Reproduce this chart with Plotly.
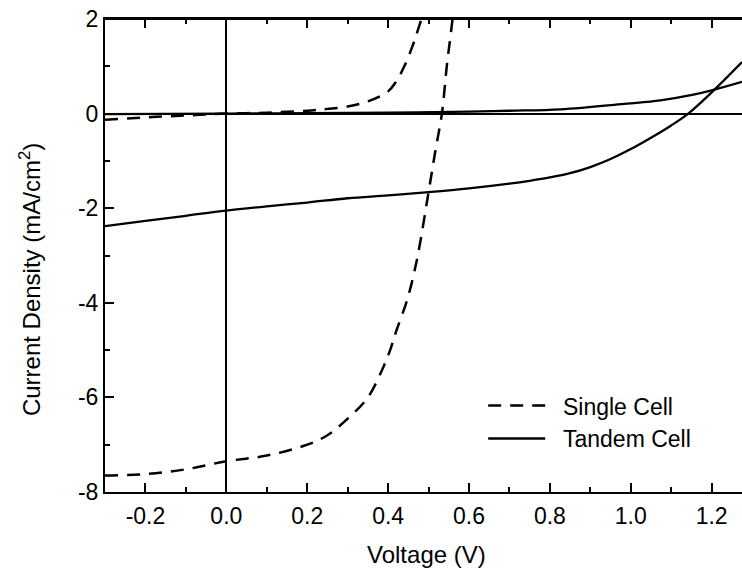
import plotly.graph_objects as go

# ---- data ----
single_light_v = [-0.3, -0.2, -0.1, 0.0, 0.1, 0.2, 0.25, 0.3, 0.35, 0.385, 0.405, 0.42, 0.447, 0.471, 0.5, 0.517, 0.533, 0.545, 0.556, 0.562]
single_light_j = [-7.65, -7.62, -7.52, -7.35, -7.23, -7.0, -6.8, -6.45, -6.0, -5.42, -5.0, -4.6, -3.94, -3.1, -1.66, -0.78, 0.0, 1.0, 1.76, 2.2]

single_dark_v = [-0.3, -0.2, -0.1, 0.0, 0.1, 0.2, 0.25, 0.3, 0.35, 0.4, 0.42, 0.44, 0.46, 0.475, 0.49]
single_dark_j = [-0.13, -0.08, -0.04, 0.0, 0.02, 0.06, 0.10, 0.15, 0.26, 0.47, 0.68, 1.0, 1.42, 1.8, 2.2]

tandem_light_v = [-0.3, -0.2, -0.1, 0.0, 0.1, 0.2, 0.3, 0.4, 0.5, 0.6, 0.7, 0.75, 0.8, 0.85, 0.9, 0.95, 1.0, 1.05, 1.1, 1.142, 1.2, 1.275]
tandem_light_j = [-2.38, -2.27, -2.16, -2.05, -1.96, -1.88, -1.79, -1.73, -1.66, -1.58, -1.48, -1.42, -1.35, -1.26, -1.13, -0.96, -0.75, -0.51, -0.25, 0.0, 0.45, 1.09]

tandem_dark_v = [-0.3, 0.0, 0.2, 0.4, 0.6, 0.7, 0.826, 0.99, 1.073, 1.155, 1.2, 1.275]
tandem_dark_j = [-0.01, 0.0, 0.01, 0.02, 0.04, 0.06, 0.09, 0.21, 0.28, 0.40, 0.49, 0.67]

x_tick_vals = [-0.2, 0.0, 0.2, 0.4, 0.6, 0.8, 1.0, 1.2]
x_tick_text = ["-0.2", "0.0", "0.2", "0.4", "0.6", "0.8", "1.0", "1.2"]
y_tick_vals = [-8, -6, -4, -2, 0, 2]
y_tick_text = ["-8", "-6", "-4", "-2", "0", "2"]

x_title = "Voltage (V)"
y_title = "Current Density (mA/cm<sup>2</sup>)"
series_names = ["Single Cell", "Tandem Cell"]

FONT = "Liberation Sans, Arial, sans-serif"
DASH = "13px,9px"
PAD = "\u00a0\u00a0"  # gap between legend sample and label
X_RANGE = [-0.3, 1.275]

fig = go.Figure()
fig.add_trace(go.Scatter(x=single_light_v, y=single_light_j, mode="lines", name=PAD + series_names[0],
                         legendgroup="s", line=dict(color="black", width=2.5, dash=DASH, shape="spline")))
fig.add_trace(go.Scatter(x=single_dark_v, y=single_dark_j, mode="lines", name=PAD + series_names[0],
                         legendgroup="s", showlegend=False,
                         line=dict(color="black", width=2.5, dash=DASH, shape="spline")))
fig.add_trace(go.Scatter(x=tandem_light_v, y=tandem_light_j, mode="lines", name=PAD + series_names[1],
                         legendgroup="t", line=dict(color="black", width=2.3, shape="spline")))
fig.add_trace(go.Scatter(x=tandem_dark_v, y=tandem_dark_j, mode="lines", name=PAD + series_names[1],
                         legendgroup="t", showlegend=False,
                         line=dict(color="black", width=2.3, shape="spline")))
# empty trace so the top (frame) axis is drawn
fig.add_trace(go.Scatter(x=[], y=[], xaxis="x2", yaxis="y", showlegend=False, hoverinfo="skip"))

tick_style = dict(ticks="inside", ticklen=9, tickwidth=2, tickcolor="black")

fig.update_layout(
    width=742, height=569, autosize=False,
    margin=dict(l=105, r=0, t=19, b=77),
    paper_bgcolor="white", plot_bgcolor="white",
    font=dict(family=FONT, size=23, color="black"),
    showlegend=True,
    legend=dict(x=0.5937, y=0.228, xanchor="left", yanchor="top", itemwidth=57,
                bgcolor="rgba(0,0,0,0)", font=dict(size=23), tracegroupgap=0),
    xaxis=dict(range=X_RANGE, tickvals=x_tick_vals, ticktext=x_tick_text, **tick_style,
               minor=dict(dtick=0.1, tick0=0, ticks="inside", ticklen=5, tickwidth=2, tickcolor="black"),
               showline=True, linecolor="black", linewidth=2, mirror=False,
               showgrid=False, zeroline=True, zerolinecolor="black", zerolinewidth=2,
               tickfont=dict(size=23), ticklabelstandoff=2),
    xaxis2=dict(range=X_RANGE, overlaying="x", side="top", anchor="y",
                tickvals=x_tick_vals, showticklabels=False, **tick_style,
                minor=dict(dtick=0.1, tick0=0, ticks="inside", ticklen=5, tickwidth=2, tickcolor="black"),
                showline=True, linecolor="black", linewidth=2,
                showgrid=False, zeroline=False),
    yaxis=dict(range=[-8, 2], tickvals=y_tick_vals, ticktext=y_tick_text, **tick_style,
               minor=dict(dtick=1, tick0=0, ticks="inside", ticklen=5, tickwidth=2, tickcolor="black"),
               showline=True, linecolor="black", linewidth=2, mirror=False,
               showgrid=False, zeroline=True, zerolinecolor="black", zerolinewidth=2,
               tickfont=dict(size=23)),
    shapes=[dict(type="line", xref="paper", yref="paper", x0=0, x1=1, y0=1, y1=1,
                 line=dict(color="black", width=2), layer="above")],
    annotations=[
        dict(text=x_title, xref="paper", yref="paper", x=0.504, y=-0.133,
             xanchor="center", yanchor="middle", showarrow=False, font=dict(size=24)),
        dict(text=y_title, xref="paper", yref="paper", x=-0.1177, y=0.448,
             xanchor="center", yanchor="middle", textangle=-90, showarrow=False, font=dict(size=24)),
    ],
)

# remove the browser's default 8px body margin so the figure fills the window exactly
fig.write_html("out.html", config={"displayModeBar": False},
               post_script="document.body.style.margin='0';document.body.style.overflow='hidden';")
